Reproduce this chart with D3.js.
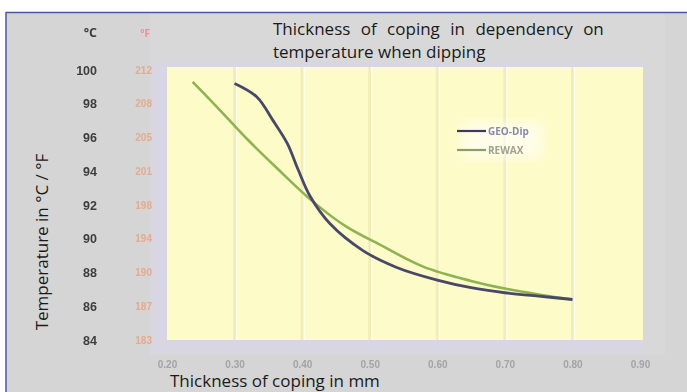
<!DOCTYPE html>
<html>
<head>
<meta charset="utf-8">
<script src="https://cdn.jsdelivr.net/npm/d3@7"></script>
<style>
  body { margin: 0; background: #fff; }
  svg { display: block; font-family: "Open Sans", sans-serif; }
</style>
</head>
<body>
<svg id="chart"></svg>
<script>
// data
const xTicks = [0.20, 0.30, 0.40, 0.50, 0.60, 0.70, 0.80, 0.90];
const cTicks = [84, 86, 88, 90, 92, 94, 96, 98, 100];
const fLabels = ["183", "187", "190", "194", "198", "201", "205", "208", "212"];
const seriesNames = ["GEO-Dip", "REWAX"];

const geoThick = [0.300, 0.333, 0.357, 0.378, 0.394, 0.412, 0.441, 0.490, 0.540, 0.600, 0.650, 0.700, 0.750, 0.800];
const geoTemp  = [99.2, 98.4, 97.0, 95.65, 94.1, 92.5, 90.9, 89.3, 88.3, 87.55, 87.1, 86.8, 86.6, 86.4];
const rewaxThick = [0.238, 0.280, 0.320, 0.361, 0.416, 0.466, 0.515, 0.579, 0.650, 0.700, 0.750, 0.800];
const rewaxTemp  = [99.3, 97.55, 95.85, 94.25, 92.2, 90.7, 89.65, 88.35, 87.5, 87.05, 86.7, 86.4];

const W = 687, H = 392;
const svg = d3.select("#chart").attr("width", W).attr("height", H);

// blur to mimic the soft scanned labels
const defs = svg.append("defs");
defs.append("filter").attr("id", "soft")
    .append("feGaussianBlur").attr("stdDeviation", 0.55);
defs.append("filter").attr("id", "glow")
    .append("feGaussianBlur").attr("stdDeviation", 6);

// scales
const x = d3.scaleLinear().domain([0.2, 0.9]).range([167, 640]);
const y = d3.scaleLinear().domain([84, 100]).range([340, 70]);

// background panel and frame
svg.append("rect").attr("x", 6).attr("y", 12).attr("width", W - 6).attr("height", H - 12).attr("fill", "#d5d5d5");
svg.append("rect").attr("x", 150).attr("y", 12).attr("width", 515).attr("height", 343).attr("fill", "#d8d8d9");
svg.append("rect").attr("x", 152).attr("y", 62).attr("width", 491).attr("height", 291).attr("fill", "#d9d6e3");
svg.append("rect").attr("x", 167).attr("y", 67).attr("width", 476).attr("height", 273).attr("fill", "#fdfbc8");

// border lines
svg.append("line").attr("x1", 6).attr("x2", W).attr("y1", 12.5).attr("y2", 12.5)
    .attr("stroke", "#4b55a6").attr("stroke-width", 1.5);
svg.append("line").attr("x1", 6).attr("x2", 6).attr("y1", 12).attr("y2", H)
    .attr("stroke", "#4b55a6").attr("stroke-width", 1.5);

// vertical grid lines
const grid = svg.append("g");
grid.selectAll(".g1").data(xTicks.slice(1, -1)).enter().append("line")
    .attr("x1", d => x(d)).attr("x2", d => x(d)).attr("y1", 67).attr("y2", 340)
    .attr("stroke", "#f1ecb8").attr("stroke-width", 3);
grid.selectAll(".g2").data(xTicks.slice(1, -1)).enter().append("line")
    .attr("x1", d => x(d) + 2).attr("x2", d => x(d) + 2).attr("y1", 67).attr("y2", 340)
    .attr("stroke", "#fffff0").attr("stroke-width", 1.2);

// x axis
const xAxis = svg.append("g")
    .attr("transform", "translate(0,358)")
    .attr("filter", "url(#soft)")
    .call(d3.axisBottom(x).tickValues(xTicks).tickFormat(d3.format(".2f")).tickSize(0));
xAxis.select(".domain").remove();
xAxis.selectAll("text").attr("fill", "#a3a3a8").attr("font-size", 10).attr("font-weight", "bold");

// °C axis
const cAxis = svg.append("g")
    .attr("transform", "translate(97,0)")
    .attr("filter", "url(#soft)")
    .call(d3.axisLeft(y).tickValues(cTicks).tickSize(0).tickPadding(0));
cAxis.select(".domain").remove();
cAxis.selectAll("text").attr("fill", "#3e3e3e").attr("font-size", 12.5).attr("font-weight", "bold");

// °F axis
const fAxis = svg.append("g")
    .attr("transform", "translate(152,0)")
    .attr("filter", "url(#soft)")
    .call(d3.axisLeft(y).tickValues(cTicks).tickSize(0).tickPadding(0)
        .tickFormat((d, i) => fLabels[i]));
fAxis.select(".domain").remove();
fAxis.selectAll("text").attr("fill", "#e6aa8e").attr("font-size", 10).attr("font-weight", "bold");

// unit headers
svg.append("text").attr("x", 97).attr("y", 37).attr("text-anchor", "end")
    .attr("font-size", 12.5).attr("font-weight", "bold").attr("fill", "#3e3e3e")
    .attr("filter", "url(#soft)").text("°C");
svg.append("text").attr("x", 150).attr("y", 37).attr("text-anchor", "end")
    .attr("font-size", 10).attr("font-weight", "bold").attr("fill", "#ec8f9a")
    .attr("filter", "url(#soft)").text("°F");

// titles
const title = svg.append("text").attr("x", 273).attr("font-size", 17).attr("fill", "#1a1a1a");
title.append("tspan").attr("x", 273).attr("y", 35).attr("word-spacing", 6)
    .text("Thickness of coping in dependency on");
title.append("tspan").attr("x", 273).attr("y", 58).text("temperature when dipping");

svg.append("text").attr("x", 170).attr("y", 387).attr("font-size", 17).attr("fill", "#1a1a1a")
    .text("Thickness of coping in mm");

svg.append("text").attr("transform", "translate(48,242) rotate(-90)")
    .attr("text-anchor", "middle").attr("font-size", 17).attr("fill", "#1a1a1a")
    .text("Temperature in °C / °F");

// curves
const line = d3.line().x(d => x(d[0])).y(d => y(d[1])).curve(d3.curveCatmullRom.alpha(0.5));
const rewax = rewaxThick.map((t, i) => [t, rewaxTemp[i]]);
const geo = geoThick.map((t, i) => [t, geoTemp[i]]);

svg.append("path").datum(rewax).attr("d", line)
    .attr("fill", "none").attr("stroke", "#8db353").attr("stroke-width", 2.6);
svg.append("path").datum(geo).attr("d", line)
    .attr("fill", "none").attr("stroke", "#4a4868").attr("stroke-width", 2.8);

// legend
svg.append("rect").attr("x", 462).attr("y", 122).attr("width", 80).attr("height", 36)
    .attr("fill", "#ffffff").attr("opacity", 0.6).attr("filter", "url(#glow)");
const legend = svg.append("g");
const legColors = ["#3c3a60", "#8a9e66"];
const labColors = ["#8789ad", "#9ea28e"];
seriesNames.forEach((name, i) => {
  const g = legend.append("g").attr("transform", "translate(457," + (131 + i * 19) + ")");
  g.append("line").attr("x1", 0).attr("x2", 29).attr("stroke", legColors[i]).attr("stroke-width", 2.2);
  g.append("text").attr("x", 31).attr("y", 3.5).attr("font-size", 10).attr("font-weight", "bold")
      .attr("fill", labColors[i]).attr("filter", "url(#soft)").text(name);
});
</script>
</body>
</html>
